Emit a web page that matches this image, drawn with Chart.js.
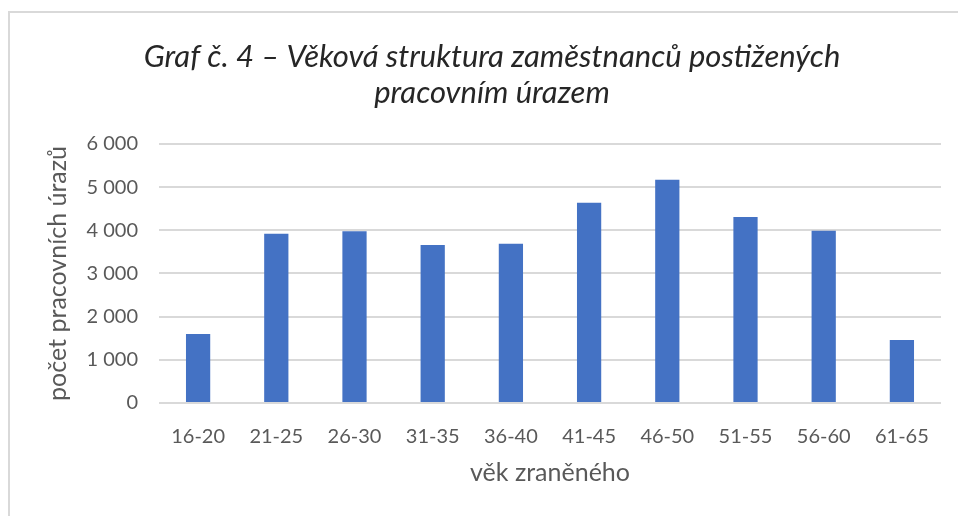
<!DOCTYPE html>
<html>
<head>
<meta charset="utf-8">
<script src="https://cdn.jsdelivr.net/npm/chart.js@4"></script>
<style>
  html, body { margin: 0; padding: 0; background: #fff; overflow: hidden; }
  #frame {
    position: absolute; left: 8px; top: 11px; width: 1000px; height: 600px;
    border: 2px solid #d9d9d9; box-sizing: border-box;
  }
  #wrap { position: absolute; left: 0; top: 0; width: 958px; height: 516px; }
</style>
</head>
<body>
<div id="frame"></div>
<div id="wrap"><canvas id="chart" width="958" height="516"></canvas></div>
<script>
// age groups of injured employees
const ageGroups = ['16-20', '21-25', '26-30', '31-35', '36-40', '41-45', '46-50', '51-55', '56-60', '61-65'];
const injuryCounts = [1600, 3920, 3980, 3660, 3690, 4640, 5170, 4310, 3990, 1460];
const yTicks = [0, 1000, 2000, 3000, 4000, 5000, 6000];

const FONT = 'Lato, "Open Sans", sans-serif';

function fmt(v) {
    return String(v).replace(/\B(?=(\d{3})+(?!\d))/g, ' ');
}

const ctx = document.getElementById('chart').getContext('2d');

new Chart(ctx, {
    type: 'bar',
    data: {
        labels: ageGroups,
        datasets: [{
            label: 'počet pracovních úrazů',
            data: injuryCounts,
            backgroundColor: '#4472C4',
            borderWidth: 0,
            categoryPercentage: 1,
            barPercentage: 0.31
        }]
    },
    options: {
        responsive: false,
        animation: false,
        layout: { padding: { left: 43, right: 17, top: 0, bottom: 28 } },
        plugins: {
            legend: { display: false },
            tooltip: { enabled: false },
            title: {
                display: true,
                text: ['Graf č. 4 – Věková struktura zaměstnanců postižených', 'pracovním úrazem'],
                color: '#262626',
                font: { family: FONT, size: 31, style: 'italic', weight: 'normal', lineHeight: 1.16 },
                padding: { top: 39, bottom: 33 }
            }
        },
        scales: {
            x: {
                afterFit: (scale) => { scale.height = 85; },
                grid: { display: false, drawTicks: false },
                border: { display: false },
                ticks: {
                    color: '#595959',
                    font: { family: FONT, size: 20 },
                    padding: 22,
                    maxRotation: 0
                },
                title: {
                    display: true,
                    text: 'věk zraněného',
                    color: '#595959',
                    font: { family: FONT, size: 25 },
                    padding: { top: 0, bottom: 0 }
                }
            },
            y: {
                min: 0,
                max: 6000,
                afterBuildTicks: (scale) => { scale.ticks = yTicks.map(v => ({ value: v })); },
                afterFit: (scale) => { scale.width = 116; },
                grid: { color: '#d9d9d9', lineWidth: 2, drawTicks: false },
                border: { display: false },
                ticks: {
                    color: '#595959',
                    font: { family: FONT, size: 20 },
                    padding: 21,
                    callback: (v) => fmt(v)
                },
                title: {
                    display: true,
                    text: 'počet pracovních úrazů',
                    color: '#595959',
                    font: { family: FONT, size: 25 },
                    padding: { top: 0, bottom: 0 }
                }
            }
        }
    }
});
</script>
</body>
</html>
